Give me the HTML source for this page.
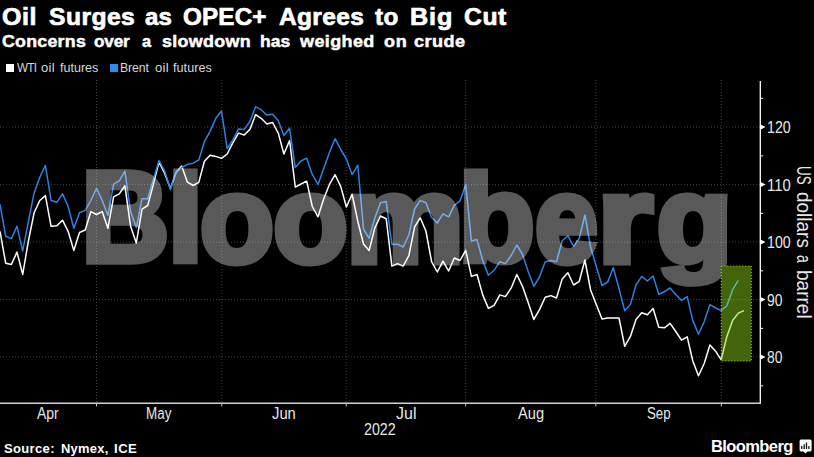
<!DOCTYPE html>
<html><head><meta charset="utf-8"><title>Oil Surges as OPEC+ Agrees to Big Cut</title>
<style>
html,body{margin:0;padding:0;background:#000;}
body{width:814px;height:457px;position:relative;overflow:hidden;font-family:"Liberation Sans",sans-serif;color:#fff;}
div,span{position:absolute;white-space:nowrap;transform-origin:0 0;}
#t1{left:0;top:0;font-weight:bold;font-size:24px;line-height:28px;-webkit-text-stroke:0.7px #fff;}
#t1 span{top:2.5px}
#t2{left:0;top:0;font-weight:bold;font-size:17.4px;line-height:20px;-webkit-text-stroke:0.5px #fff;}
#t2 span{top:31.1px}
.lg{font-size:12.5px;line-height:14px;top:0;left:0;color:#d8d8d8;}
.lg span{top:61px}
.sq{top:63.8px;width:8px;height:8px;}
.yl{font-size:16px;line-height:18px;color:#e8e8e8;}
.ml{top:0;left:0;font-size:16px;line-height:18px;color:#e8e8e8;}
.ml span{top:405px}
#yr{left:0;top:0;font-size:16px;line-height:18px;color:#e8e8e8;}
#yr span{top:421.3px}
#src{left:0;top:0;font-weight:bold;font-size:12.5px;line-height:14px;}
#src span{top:441.5px}
#bb{left:711px;top:436px;font-weight:bold;font-size:16.5px;line-height:20px;letter-spacing:-0.6px;}
#ax{left:815.2px;top:0;width:400px;height:22px;font-size:20px;line-height:22px;color:#e8e8e8;transform:rotate(90deg);transform-origin:0 0;}
#ax span{top:0}
svg{position:absolute;left:0;top:0;}
</style></head><body>
<svg width="814" height="457" viewBox="0 0 814 457">
<defs><clipPath id="gu"><rect x="640" y="150" width="110" height="118"/></clipPath><clipPath id="gl"><rect x="640" y="268" width="110" height="40"/></clipPath></defs>
<g stroke="#424242" stroke-width="1" stroke-dasharray="1 2" fill="none"><line x1="0" y1="127.1" x2="760" y2="127.1"/><line x1="0" y1="184.6" x2="760" y2="184.6"/><line x1="0" y1="242.1" x2="760" y2="242.1"/><line x1="0" y1="299.6" x2="760" y2="299.6"/><line x1="0" y1="357.1" x2="760" y2="357.1"/><line x1="96.5" y1="80" x2="96.5" y2="402"/><line x1="221.8" y1="80" x2="221.8" y2="402"/><line x1="346.2" y1="80" x2="346.2" y2="402"/><line x1="465.7" y1="80" x2="465.7" y2="402"/><line x1="595.8" y1="80" x2="595.8" y2="402"/><line x1="721.3" y1="80" x2="721.3" y2="402"/></g>
<polyline points="0.0,231.3 5.7,263.2 11.4,264.4 17.0,252.1 22.7,274.4 28.4,241.0 34.1,212.8 39.8,200.5 45.4,195.6 51.1,226.3 56.8,225.8 62.5,220.2 68.1,231.3 73.8,250.4 79.5,232.5 85.2,230.0 90.9,211.6 96.5,214.5 102.2,211.6 107.9,228.3 113.6,196.9 119.3,193.9 124.9,185.8 130.6,226.3 136.3,243.0 142.0,209.1 147.7,205.5 153.3,184.6 159.0,162.0 164.7,173.5 170.4,188.4 176.0,172.4 181.7,166.0 187.4,182.2 193.1,185.5 198.8,182.4 204.4,161.3 210.1,155.2 215.8,156.4 221.5,158.4 227.2,154.0 232.8,142.9 238.5,133.1 244.2,135.0 249.9,129.4 255.6,114.7 261.2,118.3 266.9,124.0 272.6,122.5 278.3,133.1 283.9,154.0 289.6,140.5 295.3,187.1 301.0,184.0 306.7,181.2 312.3,206.5 318.0,216.8 323.7,199.1 329.4,184.4 335.1,174.7 340.7,186.4 346.4,207.0 352.1,194.2 357.8,221.2 363.5,244.0 369.1,250.6 374.8,228.0 380.5,216.0 386.2,218.7 391.9,266.1 397.5,263.6 403.2,266.1 408.9,255.5 414.6,226.8 420.2,217.8 425.9,231.0 431.6,261.7 437.3,272.0 443.0,261.2 448.6,271.0 454.3,258.0 460.0,260.5 465.7,250.4 471.4,276.4 477.0,274.5 482.7,294.9 488.4,308.4 494.1,305.4 499.8,294.9 505.4,296.6 511.1,288.2 516.8,274.5 522.5,286.3 528.1,302.2 533.8,319.4 539.5,309.6 545.2,297.3 550.9,295.6 556.5,298.0 562.2,278.9 567.9,272.7 573.6,285.0 579.3,281.3 584.9,260.0 590.6,290.0 596.3,304.6 602.0,319.0 607.7,318.0 613.3,318.0 619.0,318.0 624.7,346.3 630.4,336.4 636.0,319.5 641.7,312.8 647.4,314.7 653.1,308.5 658.8,327.3 664.4,327.8 670.1,323.4 675.8,331.5 681.5,340.1 687.2,336.9 692.8,361.0 698.5,375.7 704.2,363.5 709.9,345.0 715.6,351.2 721.2,359.8 726.9,336.4 732.6,320.5 738.3,313.1 743.9,310.6" fill="none" stroke="#ffffff" stroke-width="1.5" stroke-linejoin="round"/>
<polyline points="0.0,204.2 5.7,236.2 11.4,238.6 17.0,226.3 22.7,250.9 28.4,221.4 34.1,193.2 39.8,177.2 45.4,165.4 51.1,200.5 56.8,202.3 62.5,193.9 68.1,206.2 73.8,228.3 79.5,212.8 85.2,210.4 90.9,200.5 96.5,188.3 102.2,200.5 107.9,215.3 113.6,184.1 119.3,180.9 124.9,171.1 130.6,211.6 136.3,227.6 142.0,198.8 147.7,198.8 153.3,179.7 159.0,160.5 164.7,171.1 170.4,189.5 176.0,172.7 181.7,167.5 187.4,164.3 193.1,163.2 198.8,160.0 204.4,141.7 210.1,131.4 215.8,118.3 221.5,111.0 227.2,148.6 232.8,140.0 238.5,128.9 244.2,129.4 249.9,121.5 255.6,106.8 261.2,109.7 266.9,115.1 272.6,114.2 278.3,120.8 283.9,135.5 289.6,128.2 295.3,167.5 301.0,161.0 306.7,158.2 312.3,174.4 318.0,184.5 323.7,168.5 329.4,152.5 335.1,138.7 340.7,149.5 346.4,159.0 352.1,174.6 357.8,165.2 363.5,229.0 369.1,238.4 374.8,218.0 380.5,202.8 386.2,201.6 391.9,244.5 397.5,244.2 403.2,247.0 408.9,234.7 414.6,209.0 420.2,200.4 425.9,202.8 431.6,217.5 437.3,223.0 443.0,213.8 448.6,216.8 454.3,205.3 460.0,200.9 465.7,184.4 471.4,241.0 477.0,239.6 482.7,260.5 488.4,275.2 494.1,270.3 499.8,261.7 505.4,263.6 511.1,255.5 516.8,245.0 522.5,254.3 528.1,271.2 533.8,286.3 539.5,277.0 545.2,261.7 550.9,260.5 556.5,261.7 562.2,240.8 567.9,235.9 573.6,246.4 579.3,238.3 584.9,215.0 590.6,246.9 596.3,266.6 602.0,285.5 607.7,282.0 613.3,267.8 619.0,288.6 624.7,310.8 630.4,304.6 636.0,285.0 641.7,276.3 647.4,281.0 653.1,276.0 658.8,294.2 664.4,291.7 670.1,288.0 675.8,294.4 681.5,300.4 687.2,296.6 692.8,320.6 698.5,334.0 704.2,321.7 709.9,304.6 715.6,308.0 721.2,310.5 726.9,305.7 732.6,289.7 738.3,280.4" fill="none" stroke="#2d82e0" stroke-width="1.5" stroke-linejoin="round"/>
<g opacity="0.35" fill="#fff" stroke="#fff" stroke-width="7.3" stroke-linejoin="miter" stroke-miterlimit="3" font-family="Liberation Sans" font-weight="bold" font-size="128.9"><text transform="translate(81.62,261.25) scale(0.940,1)">B</text><text transform="translate(167.90,261.25) scale(0.973,0.951)">l</text><text transform="translate(200.10,261.85) scale(0.939,0.95)">o</text><text transform="translate(273.28,261.85) scale(0.946,0.95)">o</text><text transform="translate(345.91,261.85) scale(1.029,0.95)">m</text><text transform="translate(458.73,261.25) scale(0.965,0.951)">b</text><text transform="translate(535.08,261.85) scale(0.877,0.95)">e</text><text transform="translate(597.38,261.85) scale(1.098,0.95)">r</text><g clip-path="url(#gu)"><text transform="translate(656.83,261.85) scale(0.958,0.95)">g</text></g><g clip-path="url(#gl)"><text transform="translate(656.83,263.00) scale(0.958,0.772)">g</text></g></g>
<rect x="721.3" y="266" width="30" height="95" fill="#43640a"/>
<line x1="721.3" y1="299.6" x2="751.3" y2="299.6" stroke="#6c8a3c" stroke-width="1" stroke-dasharray="1 2"/>
<polyline points="721.2,359.8 726.9,336.4 732.6,320.5 738.3,313.1 743.9,310.6" fill="none" stroke="#c6ec8c" stroke-width="1.5" stroke-linejoin="round"/>
<polyline points="721.2,310.5 726.9,305.7 732.6,289.7 738.3,280.4" fill="none" stroke="#5fb69a" stroke-width="1.5" stroke-linejoin="round"/>
<rect x="721.3" y="266" width="30" height="95" fill="none" stroke="#9cd820" stroke-width="1" stroke-dasharray="1 2"/>
<line x1="760.3" y1="81" x2="760.3" y2="403.6" stroke="#fff" stroke-width="1.3"/>
<line x1="0" y1="403.3" x2="761" y2="403.3" stroke="#d4d4d4" stroke-width="1.4"/>
<path d="M760.5 124.6 L765.6 127.1 L760.5 129.6 Z" fill="#fff"/><path d="M760.5 182.1 L765.6 184.6 L760.5 187.1 Z" fill="#fff"/><path d="M760.5 239.6 L765.6 242.1 L760.5 244.6 Z" fill="#fff"/><path d="M760.5 297.1 L765.6 299.6 L760.5 302.1 Z" fill="#fff"/><path d="M760.5 354.6 L765.6 357.1 L760.5 359.6 Z" fill="#fff"/><line x1="760" y1="98.35" x2="763" y2="98.35" stroke="#fff" stroke-width="1"/><line x1="760" y1="155.85" x2="763" y2="155.85" stroke="#fff" stroke-width="1"/><line x1="760" y1="213.35" x2="763" y2="213.35" stroke="#fff" stroke-width="1"/><line x1="760" y1="270.85" x2="763" y2="270.85" stroke="#fff" stroke-width="1"/><line x1="760" y1="328.35" x2="763" y2="328.35" stroke="#fff" stroke-width="1"/><line x1="760" y1="385.85" x2="763" y2="385.85" stroke="#fff" stroke-width="1"/><line x1="96.5" y1="403" x2="96.5" y2="406.5" stroke="#ccc" stroke-width="1"/><line x1="221.8" y1="403" x2="221.8" y2="406.5" stroke="#ccc" stroke-width="1"/><line x1="346.2" y1="403" x2="346.2" y2="406.5" stroke="#ccc" stroke-width="1"/><line x1="465.7" y1="403" x2="465.7" y2="406.5" stroke="#ccc" stroke-width="1"/><line x1="595.8" y1="403" x2="595.8" y2="406.5" stroke="#ccc" stroke-width="1"/><line x1="721.3" y1="403" x2="721.3" y2="406.5" stroke="#ccc" stroke-width="1"/>
</svg>
<div id="t1"><span style="left:1.6px;letter-spacing:0.57px;transform:scaleX(1.039)">Oil</span><span style="left:48.7px;letter-spacing:0.43px;transform:scaleX(1.0271)">Surges</span><span style="left:145.1px;letter-spacing:0.03px;transform:scaleX(1.001)">as</span><span style="left:182.9px;letter-spacing:0.18px;transform:scaleX(1.009)">OPEC+</span><span style="left:278.7px;letter-spacing:0.33px;transform:scaleX(1.0208)">Agrees</span><span style="left:374.9px;letter-spacing:0.3px;transform:scaleX(1.0138)">to</span><span style="left:410.25px;letter-spacing:0.88px;transform:scaleX(1.05)">Big</span><span style="left:463.9px;letter-spacing:0.56px;transform:scaleX(1.0289)">Cut</span></div>
<div id="t2"><span style="left:1.6px;letter-spacing:0.25px;transform:scaleX(1.0224)">Concerns</span><span style="left:94.2px;letter-spacing:-0.16px;transform:scaleX(0.9869)">over</span><span style="left:142.0px;letter-spacing:0px;transform:scaleX(0.94)">a</span><span style="left:161.7px;letter-spacing:0.32px;transform:scaleX(1.0274)">slowdown</span><span style="left:260.0px;letter-spacing:0.05px;transform:scaleX(1.0036)">has</span><span style="left:300.33px;letter-spacing:0.38px;transform:scaleX(1.034)">weighed</span><span style="left:384.2px;letter-spacing:0.76px;transform:scaleX(1.0382)">on</span><span style="left:414.0px;letter-spacing:0.46px;transform:scaleX(1.04)">crude</span></div>
<div class="sq" style="left:6.1px;background:#fff"></div><div class="lg"><span style="left:16.9px;letter-spacing:-0.76px;transform:scaleX(0.9368)">WTI</span><span style="left:41.2px;letter-spacing:0.26px;transform:scaleX(1.0457)">oil</span><span style="left:59.5px;letter-spacing:0.01px;transform:scaleX(1.0018)">futures</span></div>
<div class="sq" style="left:110.1px;background:#2b8cf0"></div><div class="lg"><span style="left:120.22px;letter-spacing:-0.13px;transform:scaleX(0.9829)">Brent</span><span style="left:155.0px;letter-spacing:0.26px;transform:scaleX(1.0457)">oil</span><span style="left:173.2px;letter-spacing:0.05px;transform:scaleX(1.0084)">futures</span></div>
<div class="yl" style="left:766.81px;top:119.39999999999999px;transform:scaleX(0.8877)">120</div><div class="yl" style="left:766.77px;top:176.9px;transform:scaleX(0.9305)">110</div><div class="yl" style="left:766.81px;top:234.4px;transform:scaleX(0.8877)">100</div><div class="yl" style="left:766.8px;top:291.90000000000003px;transform:scaleX(0.866)">90</div><div class="yl" style="left:766.8px;top:349.40000000000003px;transform:scaleX(0.866)">80</div><div class="ml"><span style="left:37.2px;letter-spacing:0px;transform:scaleX(0.8682)">Apr</span><span style="left:145.76px;letter-spacing:0px;transform:scaleX(0.8383)">May</span><span style="left:272.3px;letter-spacing:0px;transform:scaleX(0.9238)">Jun</span><span style="left:395.7px;letter-spacing:0px;transform:scaleX(1.0001)">Jul</span><span style="left:517.9px;letter-spacing:0px;transform:scaleX(0.914)">Aug</span><span style="left:647.2px;letter-spacing:0px;transform:scaleX(0.826)">Sep</span></div>
<div id="yr"><span style="left:363.9px;letter-spacing:0px;transform:scaleX(0.8909)">2022</span></div>
<div id="ax"><span style="left:166.23px;letter-spacing:0px;transform:scaleX(0.6694)">US</span><span style="left:191.5px;letter-spacing:0px;transform:scaleX(0.9488)">dollars</span><span style="left:254.8px;letter-spacing:0px;transform:scaleX(0.7)">a</span><span style="left:269.55px;letter-spacing:0px;transform:scaleX(0.9519)">barrel</span></div>
<div id="src"><span style="left:4.1px;letter-spacing:0.31px;transform:scaleX(1.0432)">Source:</span><span style="left:60.8px;letter-spacing:0.28px;transform:scaleX(1.033)">Nymex,</span><span style="left:113.8px;letter-spacing:0.48px;transform:scaleX(1.0488)">ICE</span></div>
<div id="bb">Bloomberg</div>
<svg width="814" height="457" viewBox="0 0 814 457">
<path d="M801.1 439.4 h9 a1.5 1.5 0 0 1 1.5 1.5 v9.1 a1.5 1.5 0 0 1 -1.5 1.5 h-2.8 l-1.9 2 l-1.9 -2 h-2.4 a1.5 1.5 0 0 1 -1.5 -1.5 v-9.1 a1.5 1.5 0 0 1 1.5 -1.5 z" fill="#fff"/>
<g stroke="#161616" stroke-width="1.3"><line x1="801.8" y1="449" x2="801.8" y2="445.9"/><line x1="804.2" y1="449" x2="804.2" y2="444.3"/><line x1="806.5" y1="449" x2="806.5" y2="442.5"/><line x1="808.9" y1="449" x2="808.9" y2="445.9"/></g>
</svg>
</body></html>
